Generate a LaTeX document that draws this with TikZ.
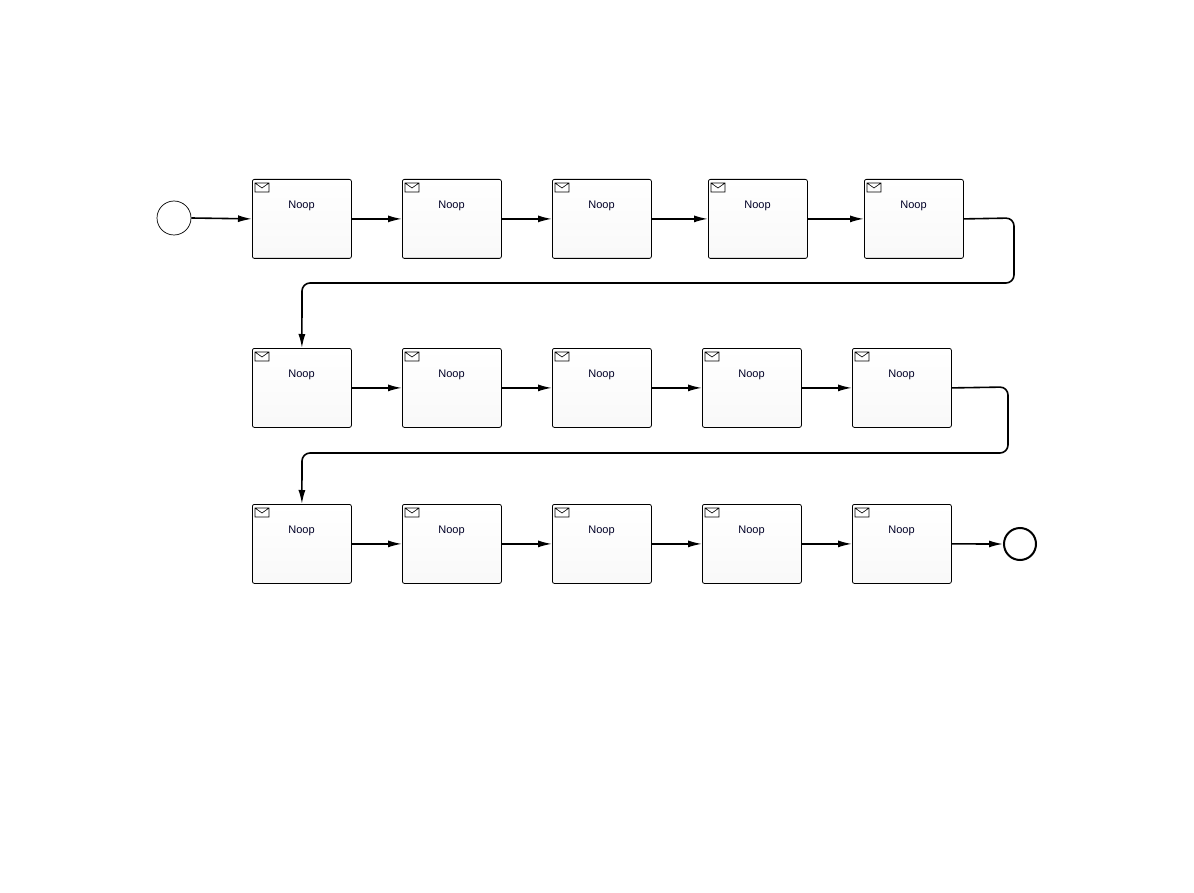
\documentclass[tikz,border=0pt]{standalone}
\usepackage{fontspec}
\setmainfont{Liberation Sans}
\usetikzlibrary{arrows.meta}
\begin{document}
\begin{tikzpicture}[x=1pt,y=-1pt,
  task/.style={draw,rounded corners=2pt,minimum width=99pt,minimum height=79pt,inner sep=0pt,line width=0.8pt,top color=white,bottom color=gray!5},
  flow/.style={line width=1.6pt,-{Latex[length=14pt,width=7pt]},rounded corners=8pt}]
\useasboundingbox (0,0) rectangle (1194,893);
\newcommand\tsk[3]{%
  \node[task,anchor=north west] (#1) at (#2,#3) {};
  \node[font=\fontsize{11pt}{13pt}\selectfont,text=black!85!blue] (#1l) at (#2+49.5,#3+27) {Noop};
  \draw[line width=0.6pt] (#2+3,#3+4) rectangle (#2+17,#3+13) (#2+3,#3+4) -- (#2+10,#3+9) -- (#2+17,#3+4);}
\node[circle,draw,minimum size=34pt,inner sep=0pt,line width=0.7pt] (s) at (174,218) {};
\node[circle,draw,minimum size=32pt,inner sep=0pt,line width=2pt] (e) at (1020,544) {};
\tsk{a1}{252}{179}\tsk{a2}{402}{179}\tsk{a3}{552}{179}\tsk{a4}{708}{179}\tsk{a5}{864}{179}
\tsk{b1}{252}{348}\tsk{b2}{402}{348}\tsk{b3}{552}{348}\tsk{b4}{702}{348}\tsk{b5}{852}{348}
\tsk{c1}{252}{504}\tsk{c2}{402}{504}\tsk{c3}{552}{504}\tsk{c4}{702}{504}\tsk{c5}{852}{504}
\draw[flow] (s.east) -- (a1.west);
\draw[flow] (a1) -- (a2); \draw[flow] (a2) -- (a3); \draw[flow] (a3) -- (a4); \draw[flow] (a4) -- (a5);
\draw[flow] (b1) -- (b2); \draw[flow] (b2) -- (b3); \draw[flow] (b3) -- (b4); \draw[flow] (b4) -- (b5);
\draw[flow] (c1) -- (c2); \draw[flow] (c2) -- (c3); \draw[flow] (c3) -- (c4); \draw[flow] (c4) -- (c5);
\draw[flow] (c5.east) -- (e.west);
\draw[flow] (a5.east) -- (1014,218) -- (1014,283) -- (302,283) -- (b1.north);
\draw[flow] (b5.east) -- (1008,387) -- (1008,453) -- (302,453) -- (c1.north);
\end{tikzpicture}
\end{document}
